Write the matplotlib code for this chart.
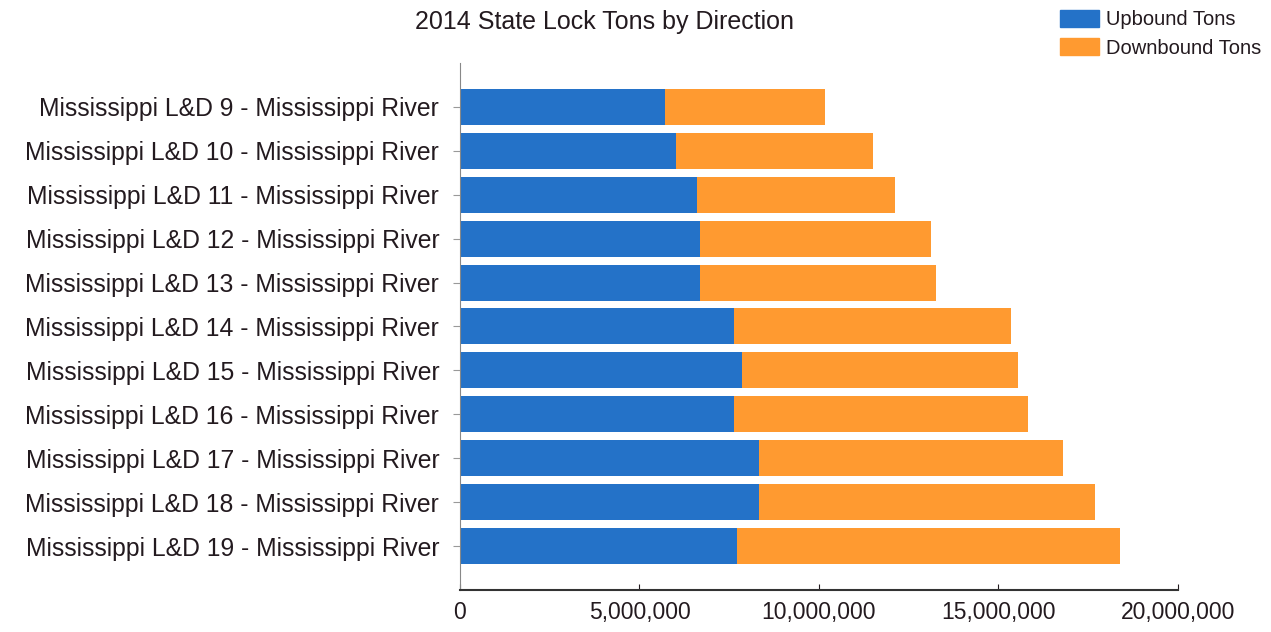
import matplotlib.pyplot as plt
from matplotlib.patches import Patch
from matplotlib.ticker import FuncFormatter

plt.rcParams['font.family'] = ['Liberation Sans', 'DejaVu Sans']

# locks, top to bottom
locks = ['Mississippi L&D 9 - Mississippi River',
         'Mississippi L&D 10 - Mississippi River',
         'Mississippi L&D 11 - Mississippi River',
         'Mississippi L&D 12 - Mississippi River',
         'Mississippi L&D 13 - Mississippi River',
         'Mississippi L&D 14 - Mississippi River',
         'Mississippi L&D 15 - Mississippi River',
         'Mississippi L&D 16 - Mississippi River',
         'Mississippi L&D 17 - Mississippi River',
         'Mississippi L&D 18 - Mississippi River',
         'Mississippi L&D 19 - Mississippi River']
upbound = [5710000, 6020000, 6600000, 6690000, 6690000, 7630000,
           7860000, 7630000, 8330000, 8330000, 7720000]
total = [10170000, 11500000, 12120000, 13120000, 13260000, 15350000,
         15540000, 15820000, 16800000, 17690000, 18380000]
downbound = [t - u for t, u in zip(total, upbound)]

blue = '#2472C8'
orange = '#FF9A30'
txt = '#231a1f'

fig = plt.figure(figsize=(12.71, 6.32), dpi=100)
ax = fig.add_axes([0.3619, 0.0665, 0.5649, 0.8339])

ypos = list(range(len(locks)))
ax.barh(ypos, upbound, height=0.82, color=blue, linewidth=0)
ax.barh(ypos, downbound, left=upbound, height=0.82, color=orange, linewidth=0)

ax.set_xlim(0, 20000000)
ax.set_ylim(len(locks), -1)
ax.set_yticks(ypos)
ax.set_yticklabels(locks, fontsize=17.8, color=txt)
ax.set_xticks([0, 5000000, 10000000, 15000000, 20000000])
ax.xaxis.set_major_formatter(FuncFormatter(lambda v, p: f'{int(v):,}'))
ax.tick_params(axis='x', labelsize=16.5, colors=txt, length=4, direction='in', pad=8)
ax.tick_params(axis='y', length=5, color='#999999', pad=10)

for s in ['top', 'right']:
    ax.spines[s].set_visible(False)
ax.spines['left'].set_color('#888888')
ax.spines['bottom'].set_color('#333333')
ax.spines['bottom'].set_linewidth(1.5)

fig.text(0.476, 0.965, '2014 State Lock Tons by Direction', ha='center', va='center',
         fontsize=18, color=txt)

handles = [Patch(color=blue, label='Upbound Tons'),
           Patch(color=orange, label='Downbound Tons')]
fig.legend(handles=handles, loc='upper right', bbox_to_anchor=(1261 / 1271, 1 - 10 / 632),
           frameon=False, fontsize=14.5, handlelength=1.9, handleheight=0.9,
           labelspacing=0.45, handletextpad=0.35, borderaxespad=0, borderpad=0,
           labelcolor=txt)

fig.savefig('out.png', dpi=100)
